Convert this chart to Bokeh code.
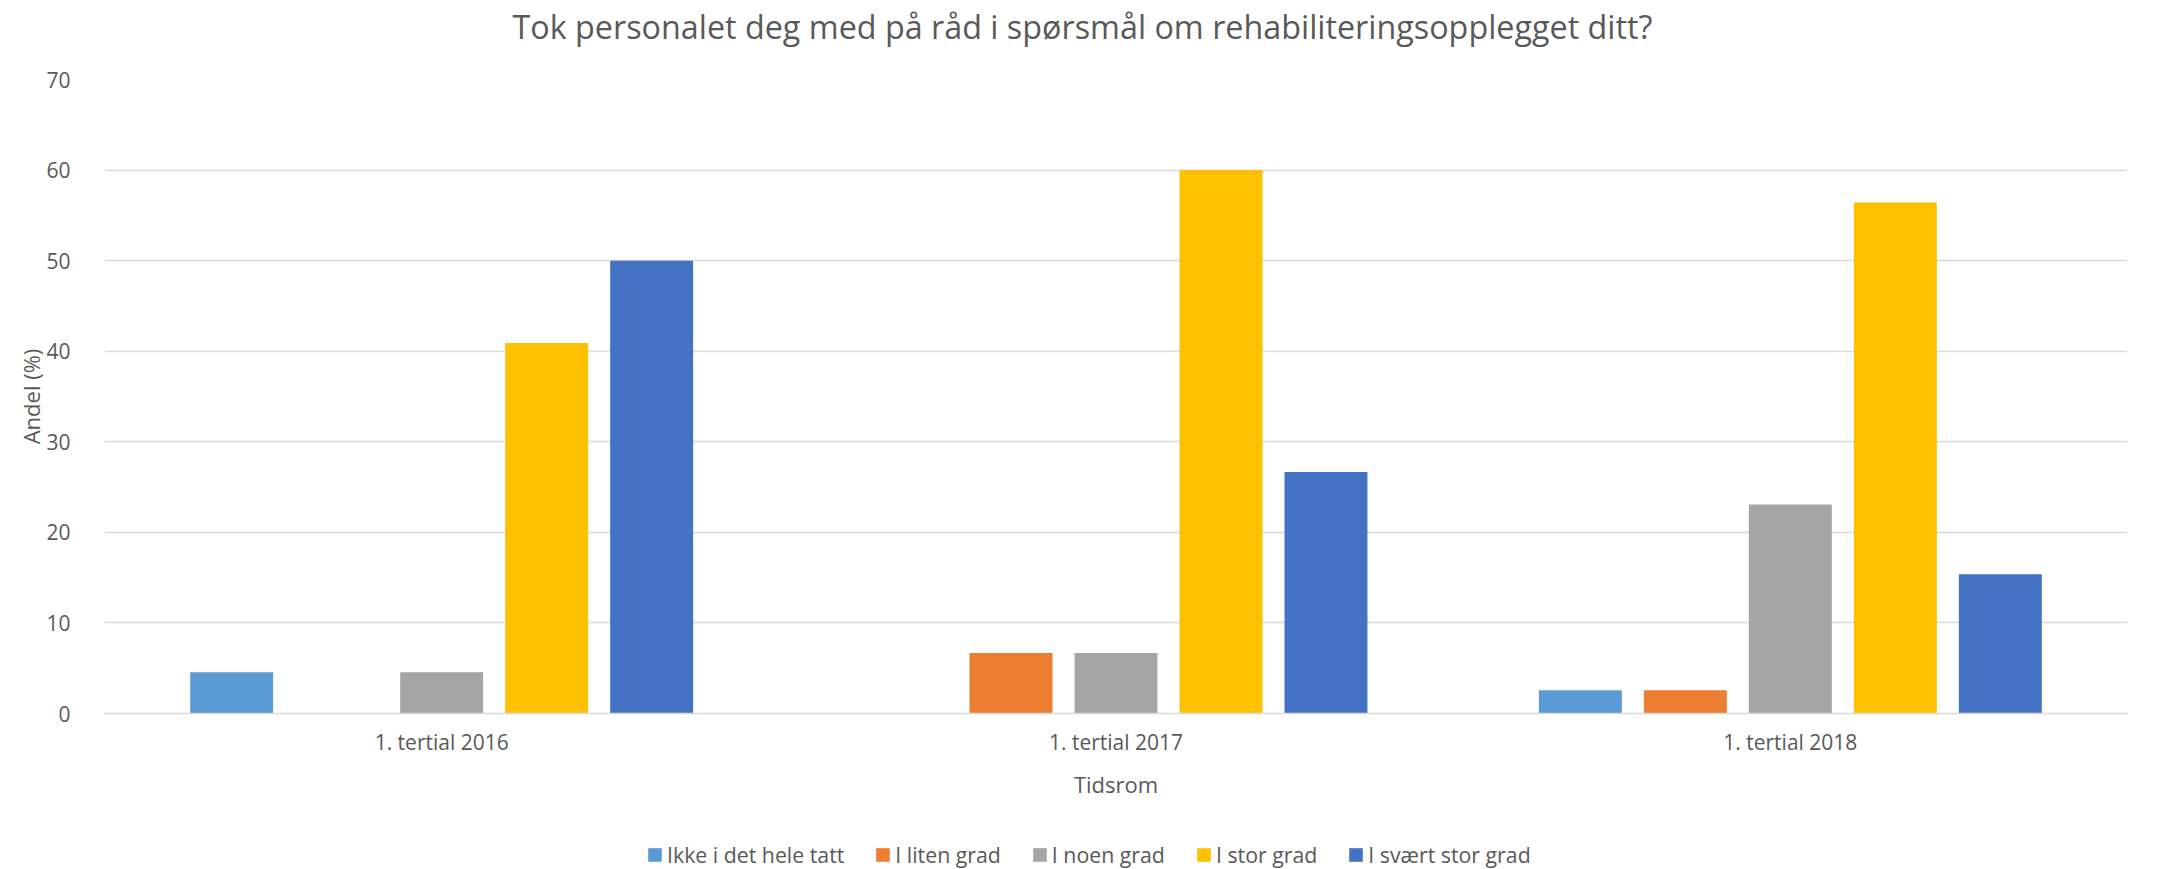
from bokeh.plotting import figure
from bokeh.models import FactorRange, Range1d, Legend, LegendItem, ColumnDataSource, FixedTicker, Title
from bokeh.layouts import column
from bokeh.transform import dodge
from bokeh.embed import file_html
from bokeh.resources import INLINE

categories = ["1. tertial 2016", "1. tertial 2017", "1. tertial 2018"]
series_names = ["Ikke i det hele tatt", "I liten grad", "I noen grad", "I stor grad", "I svært stor grad"]
ikke = [4.55, 0.0, 2.56]
liten = [0.0, 6.67, 2.56]
noen = [4.55, 6.67, 23.08]
stor = [40.91, 60.0, 56.41]
svaert = [50.0, 26.67, 15.38]
colors = ["#5B9BD5", "#ED7D31", "#A5A5A5", "#FFC000", "#4472C4"]
y_ticks = [0, 10, 20, 30, 40, 50, 60, 70]
title_text = "Tok personalet deg med på råd i spørsmål om rehabiliteringsopplegget ditt?"

FONT = "Open Sans"
TXT = "#595959"

src = ColumnDataSource(dict(cat=categories, s0=ikke, s1=liten, s2=noen, s3=stor, s4=svaert))
keys = ["s0", "s1", "s2", "s3", "s4"]

p = figure(x_range=FactorRange(*categories, range_padding=0), y_range=Range1d(0, 70),
           width=2165, height=830, output_backend="svg", toolbar_location=None,
           min_border_left=104, min_border_right=38, min_border_top=79, min_border_bottom=117)
p.outline_line_color = None

step = 0.1557
bw = 0.123
for i, key in enumerate(keys):
    p.vbar(x=dodge("cat", (i - 2) * step, range=p.x_range), top=key, width=bw,
           source=src, fill_color=colors[i], line_color=None)

# spacer above the frame, then the real title
p.add_layout(Title(text=" ", text_font_size="1px", standoff=29, text_color="white"), "above")
p.add_layout(Title(text=title_text, align="left", offset=408, standoff=0,
                   text_font=FONT, text_font_size="32.3px", text_font_style="normal",
                   text_color=TXT), "above")

p.xgrid.grid_line_color = None
p.ygrid.grid_line_color = "#D9D9D9"
p.ygrid.grid_line_width = 1.3
p.yaxis.ticker = FixedTicker(ticks=y_ticks)

for ax in (p.xaxis[0], p.yaxis[0]):
    ax.major_tick_line_color = None
    ax.minor_tick_line_color = None
    ax.major_label_text_font = FONT
    ax.major_label_text_font_size = "21px"
    ax.major_label_text_color = TXT
    ax.axis_label_text_font = FONT
    ax.axis_label_text_font_size = "22px"
    ax.axis_label_text_color = TXT
    ax.axis_label_text_font_style = "normal"

p.yaxis.axis_line_color = None
p.yaxis.major_label_standoff = 28
p.yaxis.axis_label = "Andel (%)"
p.yaxis.axis_label_standoff = -3
p.xaxis.axis_line_color = "#D9D9D9"
p.xaxis.axis_line_width = 1.3
p.xaxis.major_label_standoff = 8
p.xaxis.axis_label = "Tidsrom"
p.xaxis.axis_label_standoff = 10

# legend strip below the chart (its bars fall outside its y range, so only the legend shows)
pl = figure(width=2165, height=39, x_range=FactorRange(*categories, range_padding=0),
            y_range=Range1d(100, 101), x_axis_type=None, y_axis_type=None,
            output_backend="svg", toolbar_location=None, min_border=0)
pl.outline_line_color = None
pl.xgrid.grid_line_color = None
pl.ygrid.grid_line_color = None
leg_renderers = [pl.vbar(x=dodge("cat", (i - 2) * step, range=pl.x_range), top=key, width=bw,
                         source=src, fill_color=colors[i], line_color=None)
                 for i, key in enumerate(keys)]
legend = Legend(items=[LegendItem(label=n, renderers=[r]) for n, r in zip(series_names, leg_renderers)],
                orientation="horizontal", location=(542, 0),
                glyph_width=17, glyph_height=17, label_standoff=4, spacing=30,
                padding=0, margin=0, border_line_color=None, background_fill_alpha=0,
                label_text_font=FONT, label_text_font_size="21.3px", label_text_color=TXT)
pl.add_layout(legend, "center")

layout = column(p, pl, spacing=0)
open("out.html", "w").write(file_html(layout, INLINE))
